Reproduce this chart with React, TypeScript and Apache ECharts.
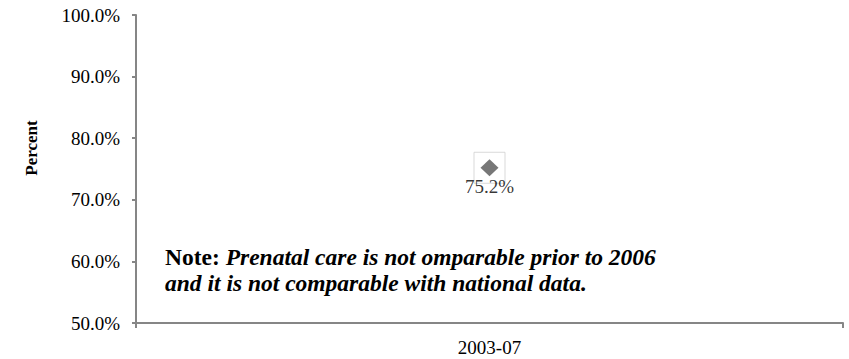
import React, { useEffect, useRef } from "react";
import * as echarts from "echarts";

const categories = ["2003-07"];
const percentValues = [75.2];
const yTicks = { min: 50, max: 100, interval: 10 };
const noteLead = "Note: ";
const noteLine1 = "Prenatal care is not omparable prior to 2006";
const noteLine2 = "and it is not comparable with national data.";

const FONT = "'Liberation Serif', 'Times New Roman', serif";
const AXIS_GRAY = "#868686";

export default function App() {
  const ref = useRef<HTMLDivElement>(null);

  useEffect(() => {
    if (!ref.current) return;
    const chart = echarts.init(ref.current, null, { renderer: "svg" });
    chart.setOption({
      animation: false,
      backgroundColor: "#ffffff",
      grid: { left: 136, right: 6, top: 15, bottom: 36 },
      xAxis: {
        type: "category",
        data: categories,
        boundaryGap: true,
        axisLine: { lineStyle: { color: AXIS_GRAY, width: 2 } },
        axisTick: { show: true, length: 5, alignWithLabel: false, lineStyle: { color: AXIS_GRAY, width: 2 } },
        axisLabel: { color: "#000", fontFamily: FONT, fontSize: 19, margin: 15 },
        splitLine: { show: false },
      },
      yAxis: {
        type: "value",
        min: yTicks.min,
        max: yTicks.max,
        interval: yTicks.interval,
        axisLine: { show: true, lineStyle: { color: AXIS_GRAY, width: 2 } },
        axisTick: { show: true, length: 4, lineStyle: { color: AXIS_GRAY, width: 2 } },
        axisLabel: {
          color: "#000",
          fontFamily: FONT,
          fontSize: 19,
          margin: 16,
          formatter: (v: number) => v.toFixed(1) + "%",
        },
        splitLine: { show: false },
      },
      series: [
        {
          type: "scatter",
          data: percentValues,
          symbol: "rect",
          symbolSize: 31,
          itemStyle: { color: "rgba(0,0,0,0)", borderColor: "#cfcfcf", borderWidth: 1 },
          silent: true,
          z: 1,
        },
        {
          type: "scatter",
          data: percentValues,
          symbol: "diamond",
          symbolSize: [18, 17],
          itemStyle: { color: "#555555" },
          z: 2,
          label: {
            show: true,
            position: "bottom",
            distance: 1,
            color: "#000000",
            fontFamily: FONT,
            fontSize: 19,
            formatter: (p: any) => p.value.toFixed(1) + "%",
          },
        },
      ],
      graphic: [
        {
          type: "text",
          x: 31,
          y: 148,
          rotation: Math.PI / 2,
          style: {
            text: "Percent",
            fill: "#000",
            font: `bold 17px ${FONT}`,
            align: "center",
            verticalAlign: "middle",
          },
        },
        {
          type: "text",
          x: 165,
          y: 244,
          style: {
            text: `{b|${noteLead}}{bi|${noteLine1}}\n{bi|${noteLine2}}`,
            rich: {
              b: { fontFamily: FONT, fontWeight: "bold", fontSize: 23.5, fill: "#000", lineHeight: 26 },
              bi: { fontFamily: FONT, fontWeight: "bold", fontStyle: "italic", fontSize: 23.5, fill: "#000", lineHeight: 26 },
            },
          },
        },
      ],
    });
    return () => chart.dispose();
  }, []);

  return <div ref={ref} style={{ width: 849, height: 359, position: "fixed", left: 0, top: 0 }} />;
}
